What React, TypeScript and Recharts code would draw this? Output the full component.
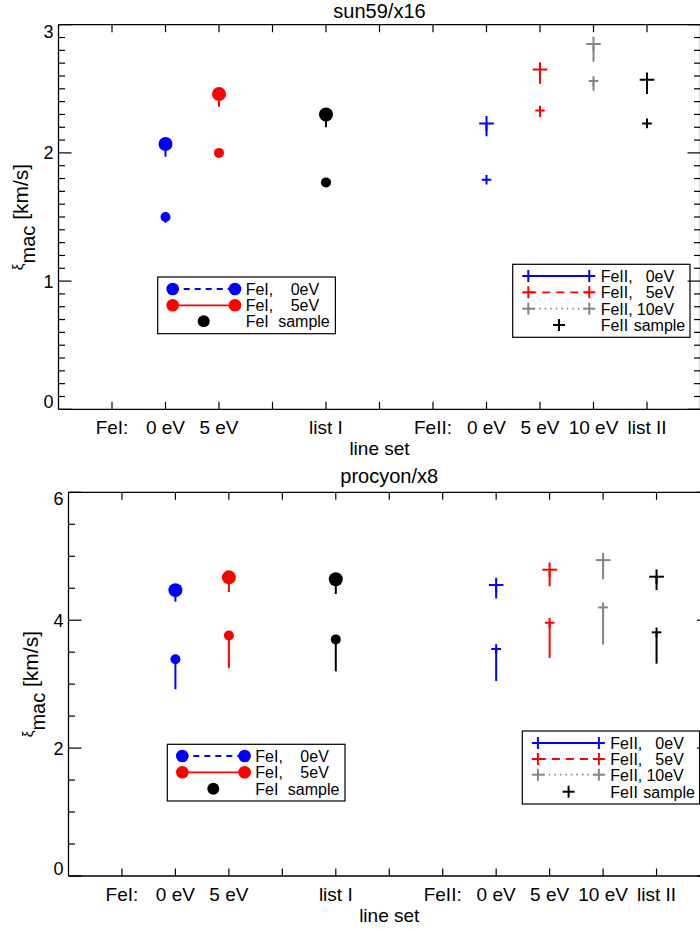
import { ScatterChart, Scatter, XAxis, YAxis, ErrorBar } from 'recharts';

// x positions of the line sets on the "line set" axis
const FEI_POS = [2, 3, 5];
const FEII_POS = [8, 9, 10, 11];
const X_TICKS = [1, 2, 3, 4, 5, 6, 7, 8, 9, 10, 11];
const X_LABELS = ['FeI:', '0 eV', '5 eV', '', 'list I', '', 'FeII:', '0 eV', '5 eV', '10 eV', 'list II'];

const FEI_COLORS = ['#0000ff', '#ff0000', '#000000'];
const FEII_COLORS = ['#0000ff', '#ff0000', '#858585', '#000000'];

// sun59/x16
const sunFeIUpper = [2.07, 2.46, 2.3];
const sunFeIUpperErr = [0.1, 0.1, 0.1];
const sunFeILower = [1.5, 2.0, 1.77];
const sunFeILowerErr = [0.045, 0, 0];
const sunFeIIUpper = [2.23, 2.65, 2.85, 2.57];
const sunFeIIUpperErr = [0.1, 0.11, 0.14, 0.11];
const sunFeIILower = [1.79, 2.33, 2.56, 2.23];
const sunFeIILowerErr = [0, 0.05, 0.075, 0];

// procyon/x8
const proFeIUpper = [4.47, 4.67, 4.64];
const proFeIUpperErr = [0.18, 0.23, 0.23];
const proFeILower = [3.39, 3.76, 3.7];
const proFeILowerErr = [0.47, 0.51, 0.5];
const proFeIIUpper = [4.55, 4.79, 4.94, 4.68];
const proFeIIUpperErr = [0.21, 0.26, 0.3, 0.21];
const proFeIILower = [3.55, 3.96, 4.2, 3.81];
const proFeIILowerErr = [0.5, 0.55, 0.58, 0.49];

const FONT = '"Liberation Sans", Arial, sans-serif';

type Marker = 'circle' | 'cross';
type Series = {
  key: string;
  color: string;
  marker: Marker;
  data: { x: number; y: number; err: number[]; big: boolean }[];
};

function buildSeries(
  name: string,
  pos: number[],
  upper: number[],
  upperErr: number[],
  lower: number[],
  lowerErr: number[],
  colors: string[],
  marker: Marker
): Series[] {
  return pos.map((x, i) => ({
    key: `${name}-${i}`,
    color: colors[i],
    marker,
    data: [
      { x, y: upper[i], err: [upperErr[i], 0], big: true },
      { x, y: lower[i], err: [lowerErr[i], 0], big: false },
    ],
  }));
}

const sunSeries = [
  ...buildSeries('sunI', FEI_POS, sunFeIUpper, sunFeIUpperErr, sunFeILower, sunFeILowerErr, FEI_COLORS, 'circle'),
  ...buildSeries('sunII', FEII_POS, sunFeIIUpper, sunFeIIUpperErr, sunFeIILower, sunFeIILowerErr, FEII_COLORS, 'cross'),
];
const proSeries = [
  ...buildSeries('proI', FEI_POS, proFeIUpper, proFeIUpperErr, proFeILower, proFeILowerErr, FEI_COLORS, 'circle'),
  ...buildSeries('proII', FEII_POS, proFeIIUpper, proFeIIUpperErr, proFeIILower, proFeIILowerErr, FEII_COLORS, 'cross'),
];

function markerShape(color: string, marker: Marker) {
  return (p: any) => {
    const { cx, cy, payload } = p;
    if (marker === 'circle') {
      return <circle cx={cx} cy={cy} r={payload.big ? 7 : 5} fill={color} />;
    }
    const h = payload.big ? 7.3 : 4.8;
    return (
      <g stroke={color} strokeWidth={2}>
        <line x1={cx - h} y1={cy} x2={cx + h} y2={cy} />
        <line x1={cx} y1={cy - h} x2={cx} y2={cy + h} />
      </g>
    );
  };
}

type PanelProps = {
  title: string;
  series: Series[];
  yMax: number;
  yStep: number;
  majorEvery: number;
  top: number;
  plotTop: number;
  plotBottom: number;
  plotLeft: number;
  plotRight: number;
  titleY: number;
  yLabelX: number;
  leftLegend: { x: number; y: number; rows: number[] };
  rightLegend: { x: number; y: number; rows: number[] };
};

const CHART_W = 720;
const CHART_H = 470;
// top and right axes need a non-zero size or recharts skips drawing them
const THIN = 1;

function Panel(props: PanelProps) {
  const { yMax, yStep, majorEvery, plotTop, plotBottom, plotLeft, plotRight } = props;
  const yTicks = Array.from({ length: Math.round(yMax / yStep) + 1 }, (_, i) => Math.round(i * yStep * 100) / 100);
  const isMajor = (v: number) => Math.abs(v / majorEvery - Math.round(v / majorEvery)) < 1e-6;
  const centerX = (plotLeft + plotRight) / 2;

  const yTick = (side: 'left' | 'right') => (p: any) => {
    const { x, y, payload } = p;
    const v = payload.value as number;
    const major = isMajor(v);
    const len = major ? 13 : 6.5;
    const dir = side === 'left' ? 1 : -1;
    let shift = 0;
    if (v === 0) shift = -7.5;
    if (v === yMax) shift = 6.3;
    return (
      <g>
        <line x1={x} y1={y} x2={x + dir * len} y2={y} stroke="#000" strokeWidth={1.2} />
        {side === 'left' && major && (
          <text x={x - 5} y={y + 6.5 + shift} textAnchor="end" fontSize={18} fontFamily={FONT} fill="#000">
            {v}
          </text>
        )}
      </g>
    );
  };

  const xTick = (side: 'top' | 'bottom') => (p: any) => {
    const { x, y, payload } = p;
    const v = payload.value as number;
    const dir = side === 'bottom' ? -1 : 1;
    return (
      <g>
        <line x1={x} y1={y} x2={x} y2={y + dir * 7.5} stroke="#000" strokeWidth={1.2} />
        {side === 'bottom' && (
          <text x={x} y={y + 25} textAnchor="middle" fontSize={19} fontFamily={FONT} fill="#000">
            {X_LABELS[v - 1]}
          </text>
        )}
      </g>
    );
  };

  const axisLine = { stroke: '#000', strokeWidth: 1.3 };
  const ll = props.leftLegend;
  const rl = props.rightLegend;
  const txt = { fontSize: 16, fontFamily: FONT, fill: '#000' };

  return (
    <div style={{ position: 'absolute', left: 0, top: props.top, width: CHART_W, height: CHART_H }}>
      <ScatterChart
        width={CHART_W}
        height={CHART_H}
        margin={{ top: plotTop - THIN, right: CHART_W - plotRight - THIN, bottom: 0, left: 0 }}
      >
        <XAxis
          xAxisId="b"
          type="number"
          dataKey="x"
          domain={[0, 12]}
          ticks={X_TICKS}
          interval={0}
          height={CHART_H - plotBottom}
          tickSize={0}
          tickMargin={0}
          tick={xTick('bottom')}
          axisLine={axisLine}
          allowDataOverflow
        />
        <XAxis
          xAxisId="t"
          orientation="top"
          type="number"
          dataKey="x"
          domain={[0, 12]}
          ticks={X_TICKS}
          interval={0}
          height={THIN}
          tickSize={0}
          tickMargin={0}
          tick={xTick('top')}
          axisLine={axisLine}
          allowDataOverflow
        />
        <YAxis
          yAxisId="l"
          type="number"
          dataKey="y"
          domain={[0, yMax]}
          ticks={yTicks}
          interval={0}
          width={plotLeft}
          tickSize={0}
          tickMargin={0}
          tick={yTick('left')}
          axisLine={axisLine}
          allowDataOverflow
        />
        <YAxis
          yAxisId="r"
          orientation="right"
          type="number"
          dataKey="y"
          domain={[0, yMax]}
          ticks={yTicks}
          interval={0}
          width={THIN}
          tickSize={0}
          tickMargin={0}
          tick={yTick('right')}
          axisLine={axisLine}
          allowDataOverflow
        />
        {/* FeI sets use bottom/left axes, FeII sets use top/right axes (same domains) */}
        {props.series.map((s) => (
          <Scatter
            key={s.key}
            xAxisId={s.marker === 'circle' ? 'b' : 't'}
            yAxisId={s.marker === 'circle' ? 'l' : 'r'}
            data={s.data}
            fill={s.color}
            shape={markerShape(s.color, s.marker)}
            isAnimationActive={false}
          >
            <ErrorBar dataKey="err" direction="y" width={0} stroke={s.color} strokeWidth={2} />
          </Scatter>
        ))}
      </ScatterChart>

      <svg
        width={CHART_W}
        height={CHART_H}
        style={{ position: 'absolute', left: 0, top: 0, overflow: 'visible', pointerEvents: 'none' }}
      >
        <text x={centerX} y={props.titleY} textAnchor="middle" fontSize={20} fontFamily={FONT}>
          {props.title}
        </text>
        <text x={centerX} y={plotBottom + 45.7} textAnchor="middle" fontSize={19} fontFamily={FONT}>
          line set
        </text>
        <text
          transform={`translate(${props.yLabelX}, ${(plotTop + plotBottom) / 2}) rotate(-90)`}
          textAnchor="middle"
          fontFamily={FONT}
        >
          <tspan fontSize={15} dy={-5}>ξ</tspan>
          <tspan fontSize={20} dy={12}>mac</tspan>
          <tspan fontSize={21} dy={-7}> [km/s]</tspan>
        </text>

        {/* FeI legend */}
        <rect x={ll.x} y={ll.y} width={177.7} height={56.7} fill="none" stroke="#000" strokeWidth={1.2} />
        <line x1={ll.x + 15} y1={ll.rows[0]} x2={ll.x + 77.3} y2={ll.rows[0]} stroke="#0000ff" strokeWidth={1.8} strokeDasharray="6 5" />
        <circle cx={ll.x + 15} cy={ll.rows[0]} r={6.3} fill="#0000ff" />
        <circle cx={ll.x + 77.3} cy={ll.rows[0]} r={6.3} fill="#0000ff" />
        <line x1={ll.x + 15} y1={ll.rows[1]} x2={ll.x + 77.3} y2={ll.rows[1]} stroke="#ff0000" strokeWidth={1.8} />
        <circle cx={ll.x + 15} cy={ll.rows[1]} r={6.3} fill="#ff0000" />
        <circle cx={ll.x + 77.3} cy={ll.rows[1]} r={6.3} fill="#ff0000" />
        <circle cx={ll.x + 46} cy={ll.rows[2]} r={6} fill="#000" />
        {['0eV', '5eV'].map((e, i) => (
          <g key={e}>
            <text x={ll.x + 88} y={ll.rows[i] + 6} {...txt}>FeI,</text>
            <text x={ll.x + 161.5} y={ll.rows[i] + 6} textAnchor="end" {...txt}>{e}</text>
          </g>
        ))}
        <text x={ll.x + 88} y={ll.rows[2] + 6} {...txt}>FeI</text>
        <text x={ll.x + 120.5} y={ll.rows[2] + 6} {...txt}>sample</text>

        {/* FeII legend */}
        <rect x={rl.x} y={rl.y} width={177.3} height={73} fill="none" stroke="#000" strokeWidth={1.2} />
        {[
          { c: '#0000ff', dash: undefined },
          { c: '#ff0000', dash: '8 6' },
          { c: '#858585', dash: '1.5 4' },
        ].map((r, i) => (
          <g key={i} stroke={r.c} strokeWidth={2}>
            <line x1={rl.x + 15.6} y1={rl.rows[i]} x2={rl.x + 76.6} y2={rl.rows[i]} strokeDasharray={r.dash} strokeWidth={1.8} />
            <line x1={rl.x + 9.6} y1={rl.rows[i]} x2={rl.x + 21.6} y2={rl.rows[i]} />
            <line x1={rl.x + 15.6} y1={rl.rows[i] - 6} x2={rl.x + 15.6} y2={rl.rows[i] + 6} />
            <line x1={rl.x + 70.6} y1={rl.rows[i]} x2={rl.x + 82.6} y2={rl.rows[i]} />
            <line x1={rl.x + 76.6} y1={rl.rows[i] - 6} x2={rl.x + 76.6} y2={rl.rows[i] + 6} />
          </g>
        ))}
        <g stroke="#000" strokeWidth={2}>
          <line x1={rl.x + 40.3} y1={rl.rows[3]} x2={rl.x + 52.3} y2={rl.rows[3]} />
          <line x1={rl.x + 46.3} y1={rl.rows[3] - 6} x2={rl.x + 46.3} y2={rl.rows[3] + 6} />
        </g>
        {['0eV', '5eV', '10eV'].map((e, i) => (
          <g key={e}>
            <text x={rl.x + 88} y={rl.rows[i] + 6} {...txt}>FeII,</text>
            <text x={rl.x + 161.5} y={rl.rows[i] + 6} textAnchor="end" {...txt}>{e}</text>
          </g>
        ))}
        <text x={rl.x + 88} y={rl.rows[3] + 6} {...txt}>FeII</text>
        <text x={rl.x + 121} y={rl.rows[3] + 6} {...txt}>sample</text>
      </svg>
    </div>
  );
}

export default function App() {
  return (
    <div
      style={{
        position: 'absolute',
        left: 0,
        top: 0,
        width: 700,
        height: 930,
        overflow: 'hidden',
        background: '#fff',
      }}
    >
      <Panel
        title="sun59/x16"
        series={sunSeries}
        yMax={3}
        yStep={0.1}
        majorEvery={1}
        top={0}
        plotTop={24.7}
        plotBottom={409.3}
        plotLeft={58.5}
        plotRight={700.5}
        titleY={18.3}
        yLabelX={27.5}
        leftLegend={{ x: 157.7, y: 277, rows: [289, 305.3, 321.3] }}
        rightLegend={{ x: 512.7, y: 264.3, rows: [276, 292.3, 308.7, 325] }}
      />
      <Panel
        title="procyon/x8"
        series={proSeries}
        yMax={6}
        yStep={0.5}
        majorEvery={2}
        top={460}
        plotTop={32.3}
        plotBottom={416}
        plotLeft={68.5}
        plotRight={710}
        titleY={23.3}
        yLabelX={37.5}
        leftLegend={{ x: 167.3, y: 284.3, rows: [296, 312.3, 328.7] }}
        rightLegend={{ x: 522.3, y: 271, rows: [283, 299, 314.7, 331.7] }}
      />
    </div>
  );
}
